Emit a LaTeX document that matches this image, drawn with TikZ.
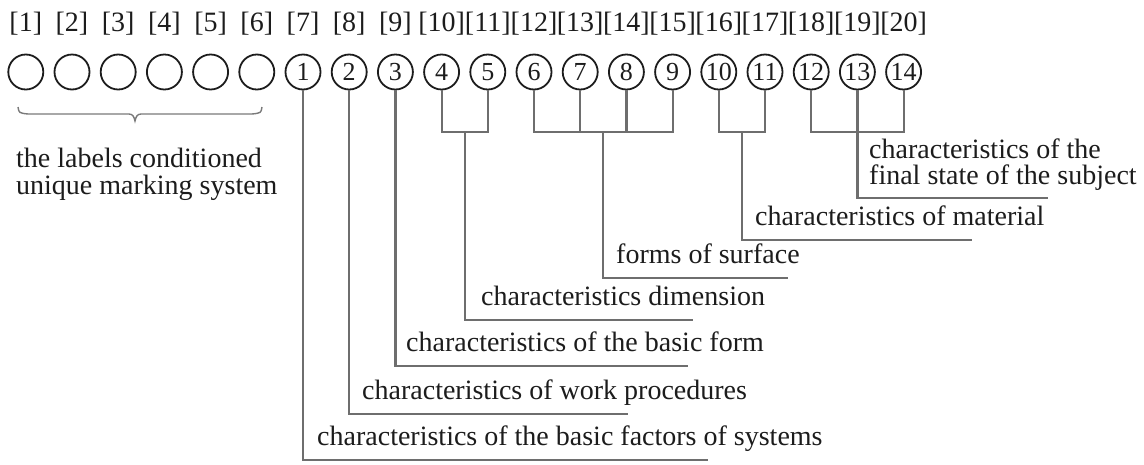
\documentclass[tikz,border=0pt]{standalone}
\usepackage{fontspec}
\setmainfont{Liberation Serif}
\usetikzlibrary{calc}
\definecolor{ink}{HTML}{1C1C1C}
\definecolor{wirecol}{HTML}{6E6E6E}
\definecolor{bracecol}{HTML}{7A7A7A}
\begin{document}
\begin{tikzpicture}[x=1pt,y=-1pt,
  every node/.style={font=\fontsize{28}{28}\selectfont, text=ink},
  slot/.style={circle, draw=ink, line width=1.8pt, minimum size=35pt,
    inner sep=0pt, font=\fontsize{26}{26}\selectfont},
  idx/.style={anchor=base, inner sep=0pt},
  caption/.style={anchor=base west, inner sep=0pt},
  wire/.style={draw=wirecol, line width=2.2pt},
]
\useasboundingbox (0,0) rectangle (1144,464);

% index row and the row of code positions
\foreach \k in {1,...,20} {
  \pgfmathsetmacro\cx{25.8+46.2*(\k-1)}
  \node[idx] (l\k) at (\cx,31.6) {[\k]};
  \ifnum\k>6
    \pgfmathtruncatemacro\n{\k-6}
    \node[slot] (n\n) at (\cx,72) {\n};
  \else
    \node[slot] (b\k) at (\cx,72) {};
  \fi
}

% brace under the six unnumbered positions
\draw[draw=bracecol, line width=1.4pt]
  (18,107) .. controls (19,113) .. (28,114) -- (129,114)
  .. controls (133,114) and (134,117) .. (135,121)
  .. controls (136,117) and (137,114) .. (141,114) -- (252,114)
  .. controls (261,113) .. (262,107);
\node[caption] (sys1) at (16,167) {the labels conditioned};
\node[caption] (sys2) at (16,194) {unique marking system};

% level of the joining brackets
\coordinate (lvl) at (0,132);

% joints of grouped positions
\path (n4.south) -- (n5.south) coordinate[pos=0.5] (m45);
\path (n6.south) -- (n9.south) coordinate[pos=0.5] (m69);
\path (n10.south) -- (n11.south) coordinate[pos=0.5] (m1011);
\coordinate (j45) at (m45 |- lvl);
\coordinate (j69) at (m69 |- lvl);
\coordinate (j1011) at (m1011 |- lvl);

% free ends of the leader lines
\coordinate (e1) at (708,460);
\coordinate (e2) at (628,414);
\coordinate (e3) at (688,366);
\coordinate (e45) at (693,320);
\coordinate (e69) at (788,278);
\coordinate (e1011) at (972,240);
\coordinate (e13) at (1048,198);

% brackets
\draw[wire] (n4.south) |- (j45) -| (n5.south);
\draw[wire] (n6.south) |- (j69) -| (n9.south);
\draw[wire] (n7.south) -- (n7.south |- lvl);
\draw[wire] (n8.south) -- (n8.south |- lvl);
\draw[wire] (n10.south) |- (j1011) -| (n11.south);
\draw[wire] (n12.south) |- (n13.south |- lvl) -| (n14.south);

% leader lines
\draw[wire] (n1.south) |- (e1);
\draw[wire] (n2.south) |- (e2);
\draw[wire] (n3.south) |- (e3);
\draw[wire] (j45) |- (e45);
\draw[wire] (j69) |- (e69);
\draw[wire] (j1011) |- (e1011);
\draw[wire] (n13.south) |- (e13);

% captions
\node[caption] (t1) at (317,445) {characteristics of the basic factors of systems};
\node[caption] (t2) at (362,399) {characteristics of work procedures};
\node[caption] (t3) at (406,351) {characteristics of the basic form};
\node[caption] (t45) at (481,305) {characteristics dimension};
\node[caption] (t69) at (616,263) {forms of surface};
\node[caption] (t1011) at (755,225) {characteristics of material};
\node[caption] (t13a) at (869,158) {characteristics of the};
\node[caption] (t13b) at (869,184) {final state of the subject};
\end{tikzpicture}
\end{document}
